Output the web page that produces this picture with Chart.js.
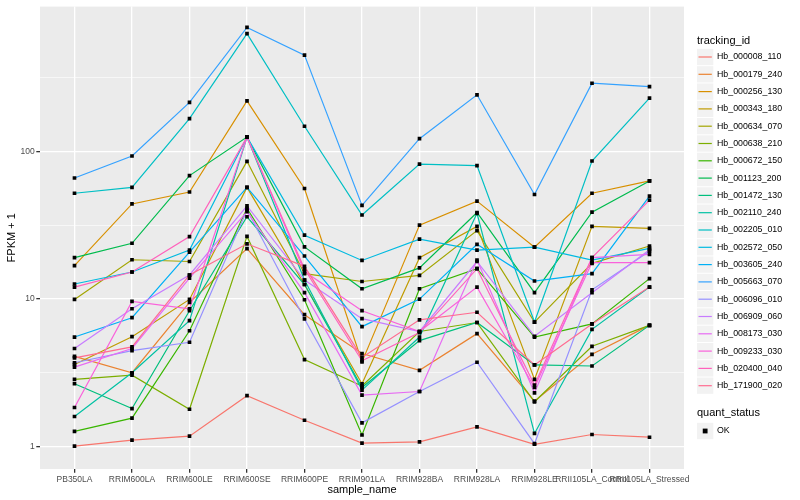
<!DOCTYPE html>
<html>
<head>
<meta charset="utf-8">
<script src="https://cdn.jsdelivr.net/npm/chart.js@4.4.1/dist/chart.umd.min.js"></script>
<style>
  html, body { margin: 0; padding: 0; background: #ffffff; }
  #wrap { width: 800px; height: 500px; }
</style>
</head>
<body>
<div id="wrap"><canvas id="grafico" width="800" height="500"></canvas></div>
<script>
// categorias del eje x
const muestras = ["PB350LA", "RRIM600LA", "RRIM600LE", "RRIM600SE", "RRIM600PE", "RRIM901LA",
                  "RRIM928BA", "RRIM928LA", "RRIM928LE", "RRII105LA_Control", "RRII105LA_Stressed"];

// nombres de cada serie (tracking_id)
const ids = ["Hb_000008_110", "Hb_000179_240", "Hb_000256_130", "Hb_000343_180", "Hb_000634_070",
             "Hb_000638_210", "Hb_000672_150", "Hb_001123_200", "Hb_001472_130", "Hb_002110_240",
             "Hb_002205_010", "Hb_002572_050", "Hb_003605_240", "Hb_005663_070", "Hb_006096_010",
             "Hb_006909_060", "Hb_008173_030", "Hb_009233_030", "Hb_020400_040", "Hb_171900_020"];

// valores FPKM + 1 por serie
const hb000008 = [1.0, 1.1, 1.17, 2.2, 1.5, 1.05, 1.07, 1.35, 1.03, 1.2, 1.15];
const hb000179 = [4.07, 3.15, 9.44, 21.9, 7.8, 4.25, 3.27, 5.8, 2.02, 4.2, 6.6];
const hb000256 = [16.8, 44, 53, 220, 56, 3.73, 31.6, 46, 22.4, 52, 63];
const hb000343 = [3.58, 5.53, 9.9, 57, 12.5, 2.65, 19, 31, 2.84, 31, 30];
const hb000634 = [9.9, 18.4, 17.9, 85.6, 14.8, 13.1, 14.4, 29, 6.95, 17.4, 22.8];
const hb000638 = [2.84, 3.03, 1.78, 26.5, 3.87, 2.56, 6.0, 6.9, 2.0, 4.76, 6.6];
const hb000672 = [1.26, 1.55, 6.07, 41, 9.85, 1.19, 11.7, 16, 5.5, 6.75, 13.7];
const hb001123 = [19, 23.8, 68.5, 125, 22.5, 11.7, 16.2, 38.5, 11, 38.7, 63];
const hb001472 = [2.65, 1.8, 8.3, 36, 12.5, 2.5, 5.2, 6.9, 3.56, 3.5, 6.6];
const hb002110 = [1.59, 3.15, 7.1, 125, 13.4, 2.4, 5.5, 38, 1.22, 6.2, 12];
const hb002205 = [52, 57, 167, 630, 148, 37, 82, 80, 6.95, 86, 230];
const hb002572 = [12.6, 15.2, 21.4, 125, 27, 18.2, 25.4, 21.4, 22.4, 18.3, 22];
const hb003605 = [5.5, 7.44, 20.7, 57, 19.5, 6.47, 9.95, 23.4, 13.2, 14.8, 49.7];
const hb005663 = [66, 93, 215, 693, 450, 43, 122, 242, 51, 290, 275];
const hb006096 = [3.68, 4.45, 5.07, 40, 7.3, 1.44, 2.35, 3.71, 1.04, 11.5, 21];
const hb006909 = [4.6, 8.56, 14.5, 42.7, 13.4, 7.33, 6.0, 17.9, 5.57, 11.0, 21.5];
const hb008173 = [3.44, 4.6, 13.8, 39, 11, 2.22, 2.35, 18.3, 2.3, 19, 20];
const hb009233 = [1.83, 9.6, 8.56, 125, 15.3, 8.3, 6.0, 12, 2.5, 17.6, 17.6];
const hb020400 = [12, 15.2, 26.4, 125, 15.9, 3.8, 5.9, 16, 2.6, 19, 46.7];
const hb171900 = [3.97, 4.72, 14.5, 23.6, 16.6, 4.0, 7.2, 8.1, 3.56, 6.75, 12];

const series = [hb000008, hb000179, hb000256, hb000343, hb000634, hb000638, hb000672, hb001123,
                hb001472, hb002110, hb002205, hb002572, hb003605, hb005663, hb006096, hb006909,
                hb008173, hb009233, hb020400, hb171900];

// ticks del eje y (mayores y menores)
const ticksY = [1, 3.1623, 10, 31.623, 100, 316.23];
const etiquetasY = ["1", "", "10", "", "100", ""];

// paleta hue de ggplot para 20 grupos
const colores = ["#F8766D", "#EA8331", "#D89000", "#C09B00", "#A3A500", "#7CAE00", "#39B600", "#00BB4E",
                 "#00BF7D", "#00C1A3", "#00BFC4", "#00BAE0", "#00B0F6", "#35A2FF", "#9590FF", "#C77CFF",
                 "#E76BF3", "#FA62DB", "#FF62BC", "#FF6C91"];

const fuente = "'Liberation Sans', Arial, sans-serif";
Chart.defaults.font.family = fuente;

// fondo gris del panel
const fondoPanel = {
  id: "fondoPanel",
  beforeDraw(chart) {
    const { ctx, chartArea: a } = chart;
    ctx.save();
    ctx.fillStyle = "#ffffff";
    ctx.fillRect(0, 0, chart.width, chart.height);
    ctx.fillStyle = "#EBEBEB";
    ctx.fillRect(a.left, a.top, a.right - a.left, a.bottom - a.top);
    ctx.restore();
  }
};

// leyenda estilo ggplot a la derecha
const leyenda = {
  id: "leyenda",
  afterDraw(chart) {
    const ctx = chart.ctx;
    const x0 = 697, paso = 17.3, y0 = 57;
    ctx.save();
    ctx.textBaseline = "middle";
    ctx.fillStyle = "#000000";
    ctx.font = "11px " + fuente;
    ctx.fillText("tracking_id", x0, 40.5);
    ctx.font = "8.8px " + fuente;
    ids.forEach((id, i) => {
      const yc = y0 + i * paso;
      ctx.fillStyle = "#F2F2F2";
      ctx.fillRect(x0, yc - paso / 2 + 0.5, paso - 1, paso - 1);
      ctx.strokeStyle = colores[i];
      ctx.lineWidth = 1.2;
      ctx.beginPath();
      ctx.moveTo(x0 + 1.5, yc);
      ctx.lineTo(x0 + paso - 2.5, yc);
      ctx.stroke();
      ctx.fillStyle = "#000000";
      ctx.fillText(id, 717, yc);
    });
    ctx.font = "11px " + fuente;
    ctx.fillText("quant_status", x0, 412.7);
    const yk = 431;
    ctx.fillStyle = "#F2F2F2";
    ctx.fillRect(x0, yk - paso / 2 + 0.5, paso - 1, paso - 1);
    ctx.fillStyle = "#000000";
    ctx.fillRect(x0 + 8.15 - 2.4, yk - 2.4, 4.8, 4.8);
    ctx.font = "8.8px " + fuente;
    ctx.fillText("OK", 717, yk);
    ctx.restore();
  }
};

const lineas = series.map((vals, i) => ({
  label: ids[i],
  data: vals.map((v, j) => ({ x: j, y: v })),
  borderColor: colores[i],
  backgroundColor: colores[i],
  borderWidth: 1.2,
  pointRadius: 0,
  tension: 0,
  order: 100 - i
}));

const puntos = series.map((vals, i) => ({
  label: ids[i] + " OK",
  data: vals.map((v, j) => ({ x: j, y: v })),
  showLine: false,
  pointStyle: "rect",
  pointRadius: 2.6,
  pointBackgroundColor: "#000000",
  pointBorderWidth: 0,
  order: 0
}));

new Chart(document.getElementById("grafico"), {
  type: "line",
  data: { datasets: [...lineas, ...puntos] },
  options: {
    responsive: false,
    animation: false,
    layout: { padding: { left: 0, top: 5, right: 116, bottom: 0 } },
    plugins: {
      legend: { display: false },
      tooltip: { enabled: false }
    },
    scales: {
      x: {
        type: "linear",
        min: -0.6,
        max: 10.6,
        afterBuildTicks: axis => { axis.ticks = muestras.map((m, i) => ({ value: i })); },
        afterFit: axis => { axis.height = 31; },
        ticks: {
          callback: v => muestras[v],
          color: "#4D4D4D",
          font: { size: 8.5 },
          padding: 1.5,
          maxRotation: 0,
          autoSkip: false
        },
        grid: { color: "#ffffff", lineWidth: 1.3, tickColor: "#333333", tickLength: 3.7 },
        border: { display: false },
        title: { display: true, text: "sample_name", color: "#000000", font: { size: 11 }, padding: { top: 0, bottom: 3 } }
      },
      y: {
        type: "logarithmic",
        min: 0.72,
        max: 960,
        afterBuildTicks: axis => { axis.ticks = ticksY.map(v => ({ value: v })); },
        afterFit: axis => { axis.width = 40; },
        ticks: {
          callback: (v, i) => etiquetasY[i],
          color: "#4D4D4D",
          font: { size: 8.5 },
          padding: 1.5,
          autoSkip: false
        },
        grid: {
          color: "#ffffff",
          lineWidth: ctx => (ctx.index % 2 === 0 ? 1.3 : 0.6),
          tickColor: ctx => (ctx.index % 2 === 0 ? "#333333" : "rgba(0,0,0,0)"),
          tickLength: 3.7
        },
        border: { display: false },
        title: { display: true, text: "FPKM + 1", color: "#000000", font: { size: 11 }, padding: { top: 5, bottom: 0 } }
      }
    }
  },
  plugins: [fondoPanel, leyenda]
});
</script>
</body>
</html>
